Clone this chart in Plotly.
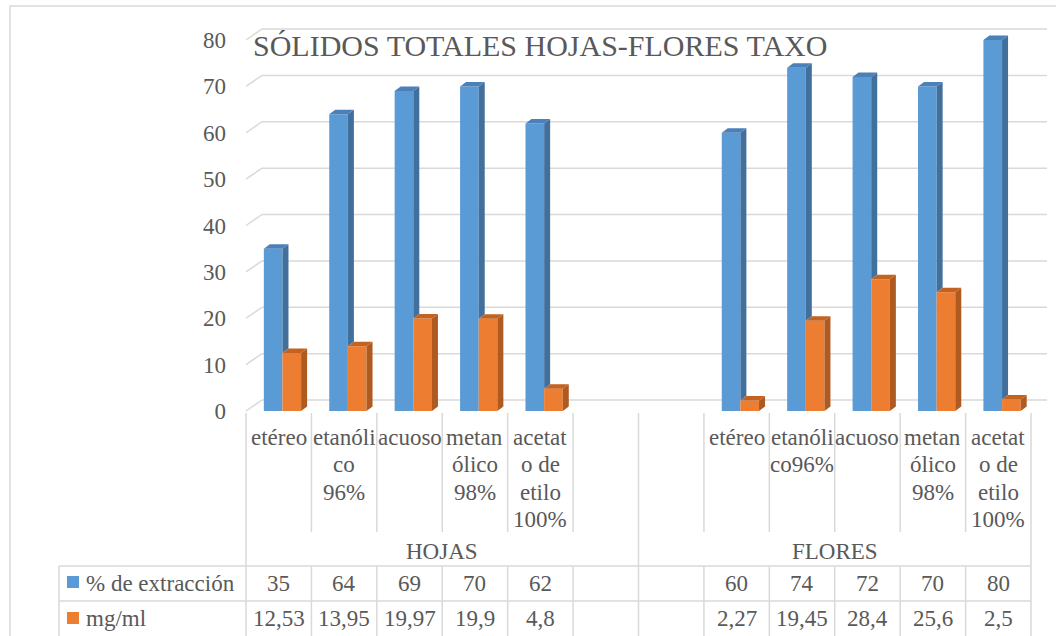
import plotly.graph_objects as go

# data
title = "SÓLIDOS TOTALES HOJAS-FLORES TAXO"
groups = ["HOJAS", "FLORES"]
hojas_labels = ["etéreo", "etanóli\nco\n96%", "acuoso", "metan\nólico\n98%", "acetat\no de\netilo\n100%"]
flores_labels = ["etéreo", "etanóli\nco96%", "acuoso", "metan\nólico\n98%", "acetat\no de\netilo\n100%"]
series_names = ["% de extracción", "mg/ml"]
hojas_extraccion = [35, 64, 69, 70, 62]
hojas_mgml = [12.53, 13.95, 19.97, 19.9, 4.8]
flores_extraccion = [60, 74, 72, 70, 80]
flores_mgml = [2.27, 19.45, 28.4, 25.6, 2.5]
y_ticks = [0, 10, 20, 30, 40, 50, 60, 70, 80]

BLUE, BLUE_SIDE, BLUE_TOP = '#5b9bd5', '#41709c', '#4c80b8'
ORANGE, ORANGE_SIDE, ORANGE_TOP = '#ed7d31', '#ae5a21', '#c4621f'
GRID = '#d9d9d9'
TEXT = '#595959'
FONT = "'Liberation Serif', 'Times New Roman', 'DejaVu Serif', serif"

# page geometry (pixels) -> axis units
W, H = 1056, 636
X0_PX, SLOT_PX = 246, 65.417
Y0_PX, UNIT_PX = 411, 4.6375


def ux(px):
    return (px - X0_PX) / SLOT_PX


def uy(py):
    return (Y0_PX - py) / UNIT_PX


n_slots = 12
hojas_slots = [0, 1, 2, 3, 4]
flores_slots = [7, 8, 9, 10, 11]
slots = hojas_slots + flores_slots
labels = hojas_labels + flores_labels
extraccion = hojas_extraccion + flores_extraccion
mgml = hojas_mgml + flores_mgml

BAR_W = 0.285
blue_x = [s + 0.415 for s in slots]
orange_x = [s + 0.70 for s in slots]

# 3d depth of bars and of back wall
DDX, DDY = 6 / SLOT_PX, 4.5 / UNIT_PX
WX, WY = 16 / SLOT_PX, 11 / UNIT_PX


def faces(xc, vals, lows):
    sx, sy, tx, ty = [], [], [], []
    for x, v, lo in zip(xc, vals, lows):
        x0, x1 = x - BAR_W / 2, x + BAR_W / 2
        sx += [x1, x1 + DDX, x1 + DDX, x1, x1, None]
        sy += [lo, lo + DDY, v + DDY, v, lo, None]
        tx += [x0, x0 + DDX, x1 + DDX, x1, x0, None]
        ty += [v, v + DDY, v + DDY, v, v, None]
    return sx, sy, tx, ty


fig = go.Figure()
fig.add_trace(go.Bar(x=blue_x, y=extraccion, width=BAR_W, marker=dict(color=BLUE, line_width=0),
                     name=series_names[0]))
fig.add_trace(go.Bar(x=orange_x, y=mgml, width=BAR_W, marker=dict(color=ORANGE, line_width=0),
                     name=series_names[1]))

# blue side is hidden below the orange neighbour's top
bsx, bsy, btx, bty = faces(blue_x, extraccion, [min(b, o) for b, o in zip(extraccion, mgml)])
osx, osy, otx, oty = faces(orange_x, mgml, [0] * len(mgml))
for xs, ys, col in [(bsx, bsy, BLUE_SIDE), (btx, bty, BLUE_TOP), (osx, osy, ORANGE_SIDE), (otx, oty, ORANGE_TOP)]:
    fig.add_trace(go.Scatter(x=xs, y=ys, mode='lines', fill='toself', fillcolor=col, line=dict(width=0),
                             hoverinfo='skip'))

shapes = []
# back wall gridlines with the left side wall
for v in y_ticks:
    shapes.append(dict(type='line', x0=0, y0=v, x1=WX, y1=v + WY, layer='below', line=dict(color=GRID, width=1.5)))
    shapes.append(dict(type='line', x0=WX, y0=v + WY, x1=n_slots + WX, y1=v + WY, layer='below',
                       line=dict(color=GRID, width=1.5)))

# data table grid
row_top, row_group, row_s1, row_s2, row_end = 413, 532, 566, 601, 640
tl = dict(color=GRID, width=1.5)
for k in range(n_slots + 1):
    shapes.append(dict(type='line', x0=k, x1=k, y0=uy(row_top), y1=uy(row_group), line=tl))
    shapes.append(dict(type='line', x0=k, x1=k, y0=uy(row_s1), y1=uy(row_end), line=tl))
for k in [0, 6, 12]:
    shapes.append(dict(type='line', x0=k, x1=k, y0=uy(row_group), y1=uy(row_s1), line=tl))
shapes.append(dict(type='line', x0=ux(59), x1=ux(59), y0=uy(row_s1), y1=uy(row_end), line=tl))
for r in [row_s1, row_s2]:
    shapes.append(dict(type='line', x0=ux(59), x1=n_slots, y0=uy(r), y1=uy(r), line=tl))

# legend keys
for col, top in [(BLUE, 576), (ORANGE, 612)]:
    shapes.append(dict(type='rect', x0=ux(67), x1=ux(79), y0=uy(top), y1=uy(top + 12),
                       fillcolor=col, line_width=0))

# chart border
shapes.append(dict(type='rect', xref='paper', yref='paper', x0=10 / W, y0=-0.1, x1=1.1, y1=1 - 6 / H,
                   line=dict(color=GRID, width=1.5)))

ann = []
tf = dict(family=FONT, size=23, color=TEXT)
for s, lab in zip(slots, labels):
    for j, line in enumerate(lab.split('\n')):
        ann.append(dict(x=s + 0.5, y=uy(437 + j * 27.5), text=line, showarrow=False, font=tf,
                        xanchor='center', yanchor='middle'))
for g, c in zip(groups, [3, 9]):
    ann.append(dict(x=c, y=uy(551), text=g, showarrow=False, font=tf, xanchor='center', yanchor='middle'))
for name, vals, yc in [(series_names[0], extraccion, 583), (series_names[1], mgml, 618)]:
    ann.append(dict(x=ux(84), y=uy(yc), text=name, showarrow=False, font=tf, xanchor='left', yanchor='middle'))
    for s, v in zip(slots, vals):
        ann.append(dict(x=s + 0.5, y=uy(yc), text=f"{v:g}".replace('.', ','), showarrow=False, font=tf,
                        xanchor='center', yanchor='middle'))
ann.append(dict(xref='paper', yref='paper', x=251 / W, y=1 - 46 / H, text=title, showarrow=False,
                font=dict(family=FONT, size=30, color=TEXT), xanchor='left', yanchor='middle'))

fig.update_layout(
    width=W, height=H, margin=dict(l=0, r=0, t=0, b=0),
    paper_bgcolor='white', plot_bgcolor='white',
    showlegend=False, barmode='overlay',
    shapes=shapes, annotations=ann,
    xaxis=dict(range=[ux(0), ux(W)], domain=[0, 1], visible=False, fixedrange=True),
    yaxis=dict(range=[uy(H), uy(0)], domain=[0, 1], anchor='free', position=X0_PX / W,
               tickvals=y_ticks, showgrid=False, zeroline=False, showline=False, ticks='',
               ticklabelstandoff=20, tickfont=dict(family=FONT, size=23, color=TEXT)),
)

# drop the browser's default body margin so the figure sits at the page corner
fig.write_html("out.html", config={'displayModeBar': False},
               post_script="document.body.style.margin='0';")
